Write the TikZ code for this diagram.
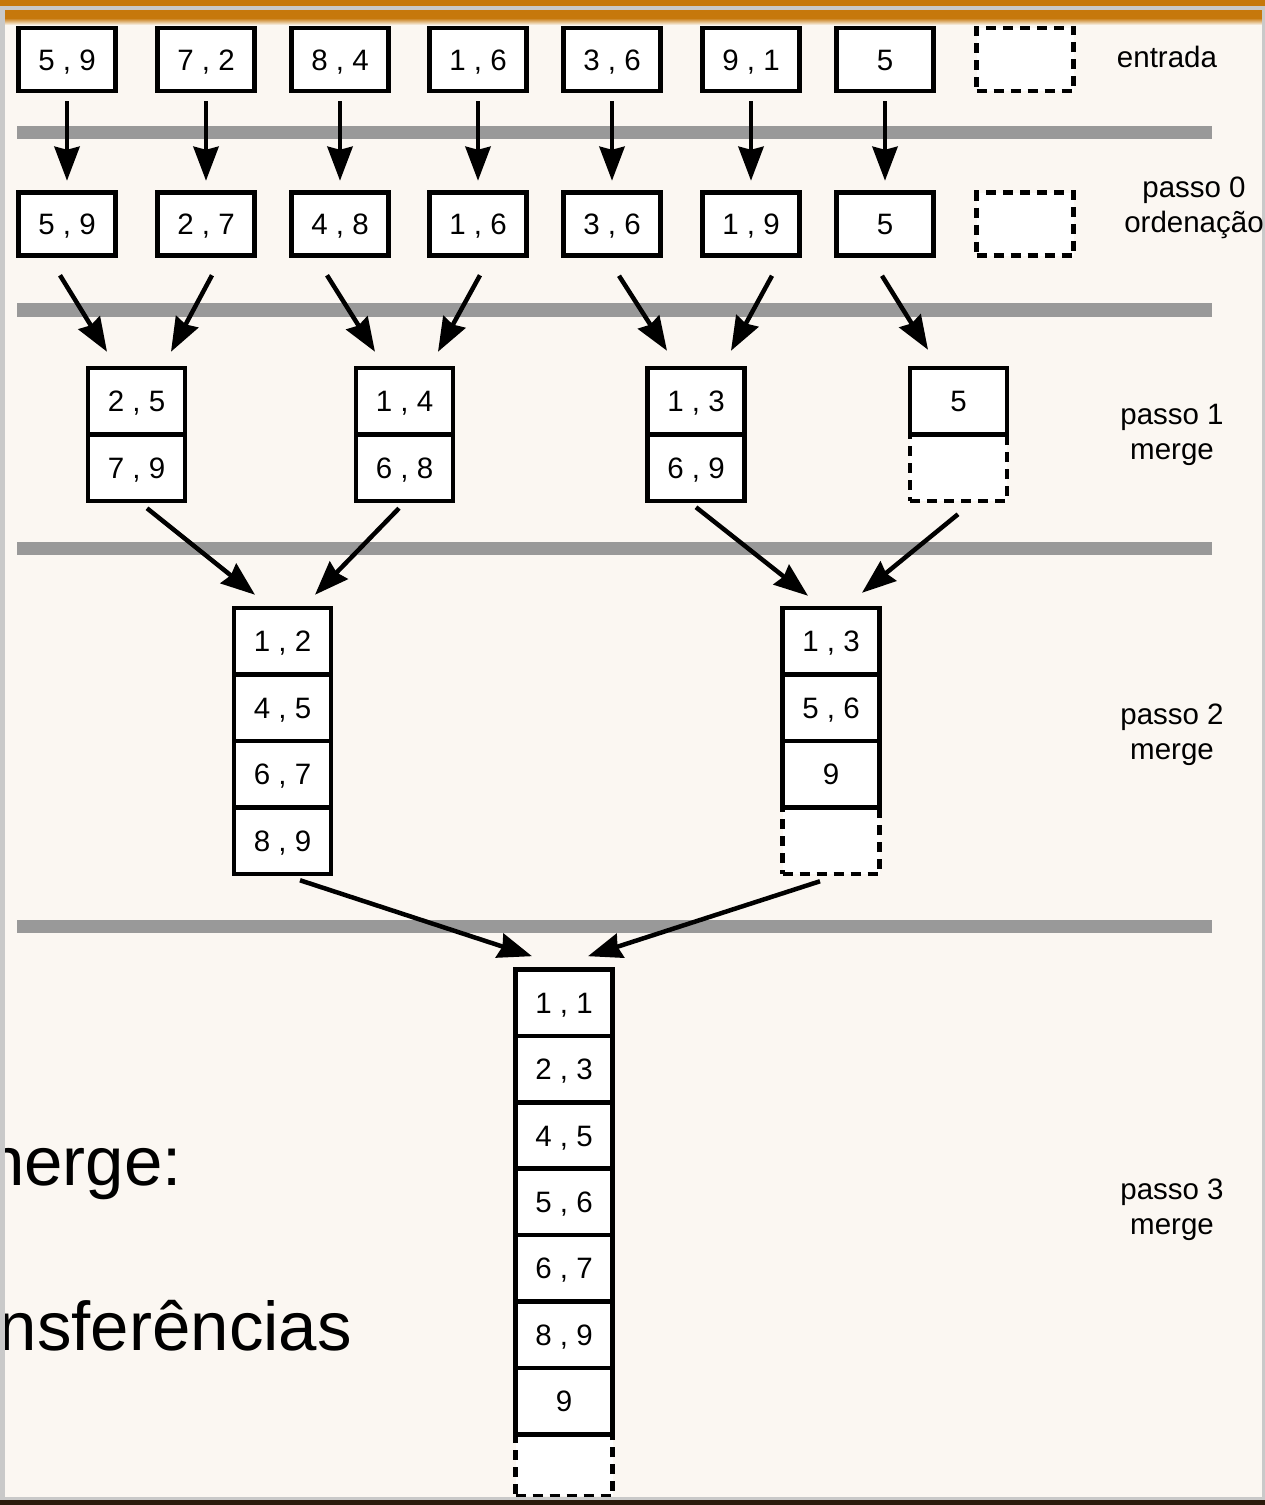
\documentclass[tikz,border=0pt]{standalone}
\usepackage{fontspec}
\setmainfont{Liberation Sans}
\usetikzlibrary{arrows.meta}
\definecolor{cream}{HTML}{FBF7F2}
\definecolor{barcol}{HTML}{999999}
\definecolor{orng}{HTML}{C6780C}
\definecolor{edgecol}{HTML}{C9C9C9}
\definecolor{darkcol}{HTML}{2B1A0C}
\newcommand\dgfont{\fontsize{29.5}{35}\selectfont}
\newcommand\bigtxtfont{\fontsize{69}{80}\selectfont}
\begin{document}
\begin{tikzpicture}[x=1pt,y=-1pt,
  cellbox/.style={draw,line width=4.5pt,fill=white,minimum width=97pt,minimum height=66.5pt,
    inner sep=0pt,text height=21pt,text depth=0pt,font=\dgfont},
  single/.style={cellbox,minimum height=63pt},
  dashedpat/.style={dash pattern=on 10pt off 7pt},
  arr/.style={line width=4.5pt,-{Stealth[length=34pt,width=25pt,inset=3pt]}},
  lbl/.style={font=\dgfont,align=center,inner sep=0pt},
  greybar/.style={fill=barcol,draw=none}]
\useasboundingbox (0,0) rectangle (1265,1505);
% background
\fill[cream] (0,0) rectangle (1265,1505);
\fill[orng] (0,0) rectangle (1265,18);
\shade[top color=orng,bottom color=cream] (0,18) rectangle (1265,25);
\fill[edgecol] (0,6) rectangle (1265,10);
% large slide text (partly hidden)
\node[font=\bigtxtfont,anchor=base east,inner sep=0pt] (t1) at (182,1185) {nerge:};
\node[font=\bigtxtfont,anchor=base east,inner sep=0pt] (t2) at (352,1350) {nsferências};
\fill[edgecol] (0,6) rectangle (5,1500);
\fill[edgecol] (1262,6) rectangle (1265,1500);
% grey bars
\fill[greybar] (17,126) rectangle (1212,139);
\fill[greybar] (17,303) rectangle (1212,317);
\fill[greybar] (17,542) rectangle (1212,555);
\fill[greybar] (17,920) rectangle (1212,933);
% row entrada
\node[single] (e1) at (67,59.5) {5 , 9};
\node[single] (e2) at (206,59.5) {7 , 2};
\node[single] (e3) at (340,59.5) {8 , 4};
\node[single] (e4) at (478,59.5) {1 , 6};
\node[single] (e5) at (612,59.5) {3 , 6};
\node[single] (e6) at (751,59.5) {9 , 1};
\node[single] (e7) at (885,59.5) {5};
\node[single,dashedpat] (e8) at (1025,59.5) {};
% row passo 0
\node[single] (p1) at (67,224) {5 , 9};
\node[single] (p2) at (206,224) {2 , 7};
\node[single] (p3) at (340,224) {4 , 8};
\node[single] (p4) at (478,224) {1 , 6};
\node[single] (p5) at (612,224) {3 , 6};
\node[single] (p6) at (751,224) {1 , 9};
\node[single] (p7) at (885,224) {5};
\node[single,dashedpat] (p8) at (1025,224) {};
% passo 1
\node[cellbox] (m1a) at (136.5,401.25) {2 , 5};
\node[cellbox] (m1b) at (136.5,467.75) {7 , 9};
\node[cellbox] (m2a) at (404.5,401.25) {1 , 4};
\node[cellbox] (m2b) at (404.5,467.75) {6 , 8};
\node[cellbox] (m3a) at (696,401.25) {1 , 3};
\node[cellbox] (m3b) at (696,467.75) {6 , 9};
\node[cellbox,dashedpat] (m4b) at (958.5,467.75) {};
\node[cellbox] (m4a) at (958.5,401.25) {5};
% passo 2
\node[cellbox] (l1) at (282.5,641.25) {1 , 2};
\node[cellbox] (l2) at (282.5,707.75) {4 , 5};
\node[cellbox] (l3) at (282.5,774.25) {6 , 7};
\node[cellbox] (l4) at (282.5,840.75) {8 , 9};
\node[cellbox,dashedpat] (r4) at (831,840.75) {};
\node[cellbox] (r1) at (831,641.25) {1 , 3};
\node[cellbox] (r2) at (831,707.75) {5 , 6};
\node[cellbox] (r3) at (831,774.25) {9};
% passo 3
\node[cellbox,dashedpat,minimum height=62pt] (f8) at (564,1465) {};
\node[cellbox] (f1) at (564,1002.7) {1 , 1};
\node[cellbox] (f2) at (564,1069.1) {2 , 3};
\node[cellbox] (f3) at (564,1135.5) {4 , 5};
\node[cellbox] (f4) at (564,1201.9) {5 , 6};
\node[cellbox] (f5) at (564,1268.3) {6 , 7};
\node[cellbox] (f6) at (564,1334.7) {8 , 9};
\node[cellbox] (f7) at (564,1401.1) {9};
% arrows passo 0
\foreach \i in {1,...,7}{
  \draw[arr] ([shift={(0,8)}]e\i.south) -- ([shift={(0,-9.5)}]p\i.north);
}
% arrows passo 1
\draw[arr] ([shift={(-7,17.5)}]p1.south) -- ([shift={(-29.5,-14)}]m1a.north);
\draw[arr] ([shift={(6,17.5)}]p2.south) -- ([shift={(34.5,-14)}]m1a.north);
\draw[arr] ([shift={(-13,17.5)}]p3.south) -- ([shift={(-29.5,-14)}]m2a.north);
\draw[arr] ([shift={(2,17.5)}]p4.south) -- ([shift={(33.5,-14)}]m2a.north);
\draw[arr] ([shift={(7,18)}]p5.south) -- ([shift={(-29,-15)}]m3a.north);
\draw[arr] ([shift={(21,18)}]p6.south) -- ([shift={(35,-15)}]m3a.north);
\draw[arr] ([shift={(-3,18)}]p7.south) -- ([shift={(-30.5,-16)}]m4a.north);
% arrows passo 2
\draw[arr] ([shift={(10.5,5)}]m1b.south) -- ([shift={(-27.5,-11)}]l1.north);
\draw[arr] ([shift={(-5.5,5)}]m2b.south) -- ([shift={(32.5,-11)}]l1.north);
\draw[arr] ([shift={(0,4)}]m3b.south) -- ([shift={(-23,-10)}]r1.north);
\draw[arr] ([shift={(-0.5,11)}]m4b.south) -- ([shift={(31,-13)}]r1.north);
% arrows passo 3
\draw[arr] ([shift={(17.5,4)}]l4.south) -- ([shift={(-32,-11)}]f1.north);
\draw[arr] ([shift={(-11,5)}]r4.south) -- ([shift={(24,-11)}]f1.north);
% labels
\node[lbl] (lb0) at (1167,57) {entrada};
\node[lbl] (lb1) at (1194,208) {passo 0\\ordenação};
\node[lbl] (lb2) at (1172,435) {passo 1\\merge};
\node[lbl] (lb3) at (1172,735) {passo 2\\merge};
\node[lbl] (lb4) at (1172,1210) {passo 3\\merge};
% bottom band
\fill[edgecol] (0,1497) rectangle (1265,1500);
\fill[darkcol] (0,1500) rectangle (1265,1505);
\end{tikzpicture}
\end{document}
